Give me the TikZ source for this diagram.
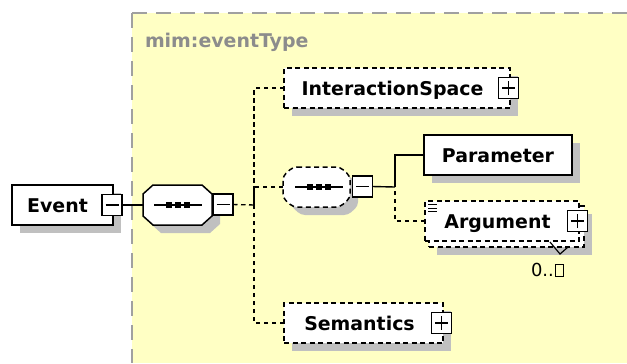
\documentclass[tikz,border=0pt]{standalone}
\usepackage{fontspec}
\setmainfont{DejaVu Sans}
\usetikzlibrary{shadows}
\definecolor{bgyellow}{HTML}{FFFFC4}
\definecolor{shadowgray}{HTML}{C0C0C0}
\definecolor{bordergray}{HTML}{A0A0A0}
\definecolor{labelgray}{HTML}{8C8C8C}
\newcommand{\octagonof}[1]{([xshift=10bp]#1.north west) -- ([xshift=-10bp]#1.north east)
  -- ([yshift=-9bp]#1.north east) -- ([yshift=9bp]#1.south east) -- ([xshift=-10bp]#1.south east)
  -- ([xshift=10bp]#1.south west) -- ([yshift=9bp]#1.south west) -- ([yshift=-9bp]#1.north west) -- cycle}
\newcommand{\seqdotsat}[2]{%
  \draw[line width=1.4bp] ([xshift=#2bp-24bp]#1.center) -- ([xshift=#2bp+24bp]#1.center);
  \foreach \d in {-9,0,9}{\fill ([xshift=#2bp+\d bp]#1.center) +(-3bp,-3bp) rectangle +(3bp,3bp);}}
\begin{document}
\begin{tikzpicture}[x=1bp,y=-1bp,
  every node/.style={outer sep=0pt},
  elemfont/.style={font=\fontsize{19}{22}\selectfont\bfseries},
  myshadow/.style={drop shadow={shadow xshift=8bp, shadow yshift=-8bp, fill=shadowgray, opacity=1, draw=none}},
  elembase/.style={draw, fill=white, line width=1.5bp, minimum height=40bp, inner sep=0pt,
    text height=15bp, text depth=1bp, elemfont},
  elem/.style={elembase, myshadow},
  optdash/.style={dash pattern=on 5bp off 3.5bp},
  pmbox/.style={draw, fill=white, line width=1.4bp, minimum width=20bp, minimum height=21bp, inner sep=0pt},
  minusbox/.style={pmbox, path picture={\draw[line width=1.5bp]
      ([xshift=3.5bp]path picture bounding box.west) -- ([xshift=-3.5bp]path picture bounding box.east);}},
  plusbox/.style={pmbox, path picture={\draw[line width=1.5bp]
      ([xshift=3.5bp]path picture bounding box.west) -- ([xshift=-3.5bp]path picture bounding box.east)
      ([yshift=3.5bp]path picture bounding box.south) -- ([yshift=-3.5bp]path picture bounding box.north);}},
  compframe/.style={rectangle, minimum height=40bp, inner sep=0pt},
  octshadow/.style={fill=shadowgray, transform canvas={shift={(8bp,-8bp)}}},
  octline/.style={draw, fill=white, line width=1.5bp},
  conn/.style={line width=1.4bp},
  dconn/.style={conn, dash pattern=on 4.5bp off 3.5bp}
]
\useasboundingbox (0,0) rectangle (627,363);
\fill[white] (0,0) rectangle (627,363);
% complex type area
\fill[bgyellow] (132,13) rectangle (627,363);
\draw[bordergray, line width=1.5bp, dash pattern=on 15bp off 9bp] (132,13) -- (627,13);
\draw[bordergray, line width=1.5bp, dash pattern=on 15bp off 9bp] (132,13) -- (132,363);
\node[font=\fontsize{19}{22}\selectfont\bfseries, text=labelgray, anchor=west, inner sep=0pt,
  text height=15bp, text depth=1bp] (typename) at (145,40) {mim:eventType};

% Event
\node[elem, minimum width=101bp] (event) at (62.5,205) {Event\kern10bp};
\node[minusbox] (eventm) at ([xshift=-1bp]event.east) {};

% main sequence
\node[compframe, minimum width=69bp] (seq) at (177.5,205) {};
\fill[octshadow] \octagonof{seq};
\path[octline] \octagonof{seq};
\seqdotsat{seq}{0.5}
\node[minusbox] (seqm) at (223,204.5) {};

% InteractionSpace
\node[elem, optdash, minimum width=226bp] (is) at (397,88) {InteractionSpace\kern9bp};
\node[plusbox] (ism) at ([xshift=-1.5bp]is.east) {};

% inner sequence
\node[compframe, minimum width=67bp] (iseq) at (316.5,187) {};
\fill[octshadow, rounded corners=4bp] \octagonof{iseq};
\path[octline, optdash, rounded corners=4bp] \octagonof{iseq};
\seqdotsat{iseq}{2.5}
\node[minusbox] (iseqm) at (362.5,186.5) {};

% Parameter
\node[elem, minimum width=148bp] (param) at (498,155) {Parameter};

% Argument (multiple occurrences)
\node[elem, optdash, minimum width=155bp, minimum height=41bp] (argback) at (506.5,226.5) {};
\node[elembase, optdash, minimum width=154bp] (argument) at (502,221) {Argument\kern9bp};
\node[plusbox] (argm) at ([xshift=-1.5bp]argument.east) {};
\draw[line width=1bp] (428,204.5) -- (437,204.5) (428,208) -- (437,208) (428,211.5) -- (437,211.5);
\draw[line width=1.2bp] (550,242) -- (560,254) -- (568,247);
\node[font=\fontsize{18}{20}\selectfont, inner sep=0pt] (occ) at (547.5,270)
  {0..\kern1bp{\fboxsep=0pt\fboxrule=1.3bp\fbox{\rule{0pt}{11bp}\hspace{6.5bp}}}};

% Semantics
\node[elem, optdash, minimum width=159bp] (sem) at (363.5,323) {Semantics\kern8bp};
\node[plusbox] (semm) at ([xshift=-1.5bp]sem.east) {};

% connectors
\coordinate (bus) at (254,205);
\coordinate (bus2) at (395,187);
\draw[conn] (eventm.east) -- (seq.west);
\draw[dconn] (seqm.east) -- (bus);
\draw[dconn] (is.west) -| (bus);
\draw[dconn] (iseq.west) -| (bus);
\draw[dconn] (sem.west) -| (bus);
\draw[conn] (iseqm.east) -- (bus2);
\draw[conn] (param.west) -| (bus2);
\draw[dconn] (argument.west) -| (bus2);
\end{tikzpicture}
\end{document}
